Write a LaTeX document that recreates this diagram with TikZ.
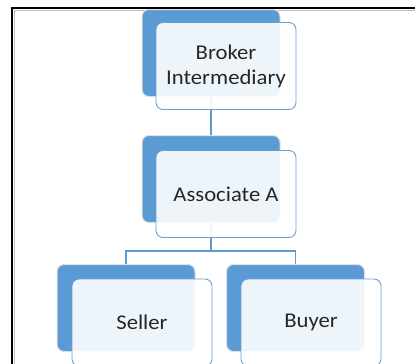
\documentclass[tikz,border=0pt]{standalone}
\usepackage{fontspec}
\setmainfont{Carlito}[FakeStretch=1.08]
\usepackage{tikz}
\definecolor{boxblue}{HTML}{5B9BD5}
\definecolor{lineblue}{HTML}{6C9ED6}

\begin{document}
\begin{tikzpicture}[x=1pt,y=-1pt,
			    back/.style={inner sep=0mm,minimum height=87pt,minimum width=138pt,rounded corners=7pt,fill=boxblue,draw=black!12,line width=1pt},
			    front/.style={inner sep=0mm,minimum height=87pt,minimum width=140pt,rounded corners=7pt,fill=white,fill opacity=0.9,text opacity=1,draw=lineblue,line width=0.9pt,align=center,font=\fontsize{21}{25}\selectfont,text=black!85},
			    edge/.style={draw=boxblue,line width=1.3pt},
			]
	    \useasboundingbox (0,0) rectangle (415,364);

	    % frame
	    \draw[black!25,line width=1pt] (14.5,364) -- (14.5,10) -- (415,10);
	    \draw[line width=1.6pt] (12,364) -- (12,8) -- (415,8);

	    \node[back] (brokerback) at (211,53) {};
	    \node[back] (assocback) at (211,179) {};
	    \node[back] (sellerback) at (126,308) {};
	    \node[back] (buyerback) at (295.5,308) {};

	    % tree lines
	    \draw [edge] (brokerback.south) -- (assocback.north);
	    \draw [edge] (assocback.south) -- ++(0,28) -| (sellerback.north);
	    \draw [edge] (assocback.south) -- ++(0,28) -| (buyerback.north);

	    \node[front] (broker) at (226,66) {Broker\\Intermediary};
	    \node[front] (assoc) at (226,194) {Associate A};
	    \node[front] (seller) at (142,322.5) {Seller};
	    \node[front] (buyer) at (311,322.5) {Buyer};
	\end{tikzpicture}
\end{document}
